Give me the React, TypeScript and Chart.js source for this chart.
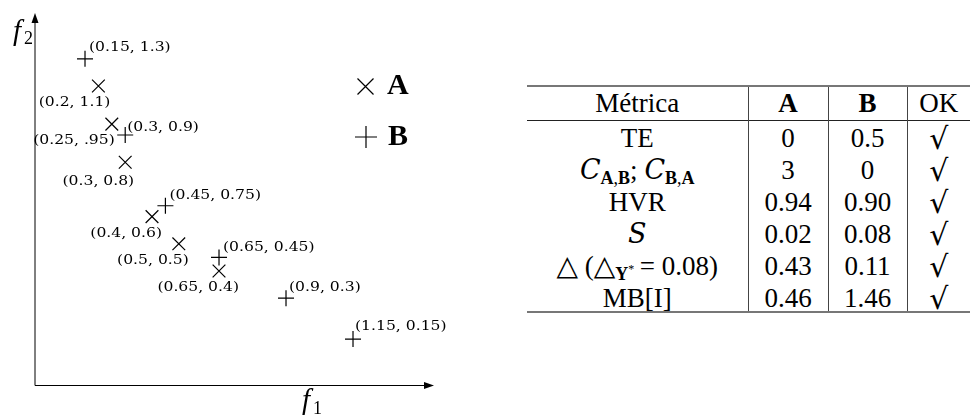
import React, { useEffect, useRef } from "react";
import { Chart, registerables } from "chart.js";

Chart.register(...registerables);

// ---- scatter data (positions) ----
const seriesNames = ["A", "B"];
const seriesAX = [0.2, 0.25, 0.3, 0.4, 0.5, 0.65];
const seriesAY = [1.08, 0.94, 0.8, 0.6, 0.5, 0.4];
const seriesALabels = ["(0.2, 1.1)", "(0.25, .95)", "(0.3, 0.8)", "(0.4, 0.6)", "(0.5, 0.5)", "(0.65, 0.4)"];
const seriesBX = [0.15, 0.3, 0.45, 0.65, 0.9, 1.15];
const seriesBY = [1.18, 0.9, 0.64, 0.45, 0.3, 0.15];
const seriesBLabels = ["(0.15, 1.3)", "(0.3, 0.9)", "(0.45, 0.75)", "(0.65, 0.45)", "(0.9, 0.3)", "(1.15, 0.15)"];
const axisXTitle = ["f", "1"];
const axisYTitle = ["f", "2"];

// ---- table data ----
const tableHeaders = ["Métrica", "A", "B", "OK"];
const tableValuesA = ["0", "3", "0.94", "0.02", "0.43", "0.46"];
const tableValuesB = ["0.5", "0", "0.90", "0.08", "0.11", "1.46"];
const tableOk = ["√", "√", "√", "√", "√", "√"];

// label placement (style only): align side, pixel offsets from the mark
const placementA = [
  { align: "right", dx: 12, dy: 17 },
  { align: "right", dx: 3, dy: 17 },
  { align: "right", dx: 9, dy: 19 },
  { align: "right", dx: 10, dy: 17 },
  { align: "right", dx: 10, dy: 17 },
  { align: "right", dx: 20, dy: 17 },
];
const placementB = [
  { align: "left", dx: 4, dy: -11 },
  { align: "left", dx: 2, dy: -7 },
  { align: "left", dx: 4, dy: -10 },
  { align: "left", dx: 4, dy: -10 },
  { align: "left", dx: 3, dy: -11 },
  { align: "left", dx: 2, dy: -12 },
];

const LABEL_SX = 1.2;

const decorPlugin = {
  id: "decor",
  afterDatasetsDraw(chart: any) {
    const ctx: CanvasRenderingContext2D = chart.ctx;
    const { left, top, right, bottom } = chart.chartArea;
    ctx.save();
    // y axis
    ctx.strokeStyle = "#000";
    ctx.fillStyle = "#000";
    ctx.lineWidth = 1;
    ctx.beginPath();
    ctx.moveTo(left, bottom + 0.5);
    ctx.lineTo(left, top + 8);
    ctx.stroke();
    ctx.beginPath();
    ctx.moveTo(left, top);
    ctx.lineTo(left - 3.5, top + 10);
    ctx.lineTo(left + 3.5, top + 10);
    ctx.closePath();
    ctx.fill();
    // x axis
    const ya = bottom + 0.5;
    ctx.beginPath();
    ctx.moveTo(left, ya);
    ctx.lineTo(right - 8, ya);
    ctx.stroke();
    ctx.beginPath();
    ctx.moveTo(right, ya);
    ctx.lineTo(right - 10, ya - 3.5);
    ctx.lineTo(right - 10, ya + 3.5);
    ctx.closePath();
    ctx.fill();

    // axis titles
    ctx.textBaseline = "alphabetic";
    ctx.textAlign = "left";
    ctx.font = 'italic 29px "Liberation Serif"';
    ctx.fillText(axisYTitle[0], 13, 40);
    ctx.fillText(axisXTitle[0], 302, 409);
    ctx.font = '18px "Liberation Serif"';
    ctx.fillText(axisYTitle[1], 24, 44);
    ctx.fillText(axisXTitle[1], 313, 414);

    // point labels
    ctx.font = '13px "DejaVu Serif"';
    ctx.textBaseline = "middle";
    const labelSets = [seriesALabels, seriesBLabels];
    const placeSets = [placementA, placementB];
    for (let d = 0; d < 2; d++) {
      const meta = chart.getDatasetMeta(d);
      meta.data.forEach((el: any, j: number) => {
        const text = labelSets[d][j];
        const p = placeSets[d][j];
        const w = ctx.measureText(text).width * LABEL_SX;
        const lx = p.align === "left" ? el.x + p.dx : el.x + p.dx - w;
        ctx.save();
        ctx.translate(lx, el.y + p.dy);
        ctx.scale(LABEL_SX, 1);
        ctx.fillText(text, 0, 0);
        ctx.restore();
      });
    }

    // legend
    ctx.lineWidth = 1.2;
    ctx.beginPath();
    ctx.moveTo(357.5, 78.5);
    ctx.lineTo(373.5, 94.5);
    ctx.moveTo(373.5, 78.5);
    ctx.lineTo(357.5, 94.5);
    ctx.moveTo(355, 137);
    ctx.lineTo(377, 137);
    ctx.moveTo(366, 126);
    ctx.lineTo(366, 148);
    ctx.stroke();
    ctx.font = 'bold 30px "Liberation Serif"';
    ctx.textBaseline = "alphabetic";
    ctx.fillText(seriesNames[0], 387, 94);
    ctx.fillText(seriesNames[1], 388, 145);
    ctx.restore();
  },
};

const cellBase: React.CSSProperties = {
  padding: 0,
  textAlign: "center",
  verticalAlign: "middle",
  lineHeight: "24px",
  fontWeight: "normal",
  overflow: "visible",
};
const shift: React.CSSProperties = { position: "relative", top: 2 };
const vline = "1px solid #444";
const subStyle: React.CSSProperties = { fontSize: 18, lineHeight: 0, verticalAlign: "-0.3em" };
const calStyle: React.CSSProperties = {
  fontFamily: '"DejaVu Serif", serif',
  fontStyle: "italic",
  fontSize: 27,
};
const triStyle: React.CSSProperties = { fontFamily: '"DejaVu Sans"', fontSize: 28 };

function metricCell(i: number): React.ReactNode {
  switch (i) {
    case 0:
      return "TE";
    case 1:
      return (
        <>
          <span style={calStyle}>C</span>
          <sub style={subStyle}>
            <b>A</b>,<b>B</b>
          </sub>
          ; <span style={calStyle}>C</span>
          <sub style={subStyle}>
            <b>B</b>,<b>A</b>
          </sub>
        </>
      );
    case 2:
      return "HVR";
    case 3:
      return <span style={calStyle}>S</span>;
    case 4:
      return (
        <>
          <span style={triStyle}>△</span> (<span style={triStyle}>△</span>
          <sub style={subStyle}>
            <b>Y</b>
            <sup style={{ fontSize: 12, lineHeight: 0 }}>*</sup>
          </sub>
          {"\u2009= 0.08)"}
        </>
      );
    default:
      return "MB[I]";
  }
}

export default function App() {
  const canvasRef = useRef<HTMLCanvasElement | null>(null);

  useEffect(() => {
    if (!canvasRef.current) return;
    const chart = new Chart(canvasRef.current, {
      type: "scatter",
      data: {
        datasets: [
          {
            label: seriesNames[0],
            data: seriesAX.map((x, i) => ({ x, y: seriesAY[i] })),
            pointStyle: "crossRot",
            pointRadius: 9,
            pointBorderWidth: 1.2,
            borderColor: "#000",
            backgroundColor: "#000",
          },
          {
            label: seriesNames[1],
            data: seriesBX.map((x, i) => ({ x, y: seriesBY[i] })),
            pointStyle: "cross",
            pointRadius: 8,
            pointBorderWidth: 1.2,
            borderColor: "#000",
            backgroundColor: "#000",
          },
        ],
      },
      options: {
        responsive: false,
        animation: false,
        layout: { padding: { left: 35, top: 13, right: 36, bottom: 33 } },
        scales: {
          x: { type: "linear", display: false, min: -0.0366, max: 1.4522 },
          y: { type: "linear", display: false, min: -0.019, max: 1.3485 },
        },
        plugins: { legend: { display: false }, tooltip: { enabled: false } },
      },
      plugins: [decorPlugin],
    });
    return () => chart.destroy();
  }, []);

  const rowH = 32;
  return (
    <div style={{ position: "absolute", left: 0, top: 0, width: 971, height: 418, background: "#fff" }}>
      <canvas ref={canvasRef} width={470} height={418} style={{ position: "absolute", left: 0, top: 0 }} />
      <table
        style={{
          position: "absolute",
          left: 527,
          top: 85,
          width: 443,
          borderCollapse: "collapse",
          tableLayout: "fixed",
          fontFamily: '"Liberation Serif", serif',
          fontSize: 27,
          color: "#000",
        }}
      >
        <colgroup>
          <col style={{ width: 221 }} />
          <col style={{ width: 80 }} />
          <col style={{ width: 79 }} />
          <col style={{ width: 63 }} />
        </colgroup>
        <thead>
          <tr style={{ height: 34, borderTop: "2px solid #777", borderBottom: "1px solid #222" }}>
            <th style={{ ...cellBase, borderRight: vline }}>{tableHeaders[0]}</th>
            <th style={{ ...cellBase, fontWeight: "bold", borderRight: vline }}>{tableHeaders[1]}</th>
            <th style={{ ...cellBase, fontWeight: "bold", borderRight: vline }}>{tableHeaders[2]}</th>
            <th style={cellBase}>{tableHeaders[3]}</th>
          </tr>
        </thead>
        <tbody style={{ borderBottom: "2px solid #777" }}>
          {tableValuesA.map((va, i) => (
            <tr key={i} style={{ height: rowH }}>
              <td style={{ ...cellBase, borderRight: vline, whiteSpace: "nowrap" }}>
                <span style={shift}>{metricCell(i)}</span>
              </td>
              <td style={{ ...cellBase, borderRight: vline }}>
                <span style={shift}>{va}</span>
              </td>
              <td style={{ ...cellBase, borderRight: vline }}>
                <span style={shift}>{tableValuesB[i]}</span>
              </td>
              <td style={{ ...cellBase, fontFamily: '"DejaVu Serif"', fontSize: 30 }}>
                <span style={{ position: "relative", top: 3 }}>{tableOk[i]}</span>
              </td>
            </tr>
          ))}
        </tbody>
      </table>
    </div>
  );
}
